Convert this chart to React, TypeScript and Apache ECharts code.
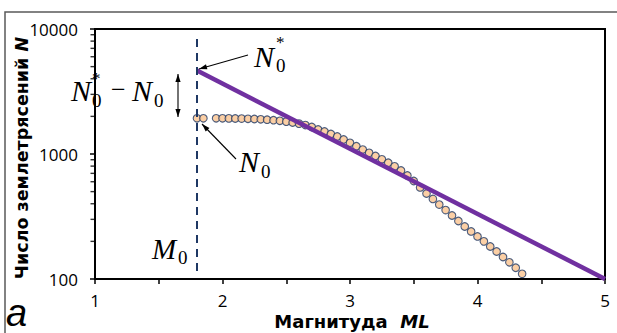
import React, { useEffect, useRef } from 'react';
import * as echarts from 'echarts';

// Magnitude of completeness
const M0 = 1.8;

// Observed cumulative numbers of earthquakes (dots)
const magnitudes = [
  1.8, 1.85, 1.95, 2.0, 2.05, 2.1, 2.15, 2.2, 2.25, 2.3, 2.35, 2.4, 2.45, 2.5,
  2.55, 2.6, 2.65, 2.7, 2.75, 2.8, 2.85, 2.9, 2.95, 3.0, 3.05, 3.1, 3.15, 3.2,
  3.25, 3.3, 3.35, 3.4, 3.45, 3.5, 3.55, 3.6, 3.65, 3.7, 3.75, 3.8, 3.85, 3.9,
  3.95, 4.0, 4.05, 4.1, 4.15, 4.2, 4.25, 4.3, 4.35,
];
const counts = [
  1930, 1930, 1930, 1930, 1927, 1923, 1920, 1913, 1905, 1895, 1881, 1864, 1843, 1816,
  1786, 1750, 1705, 1644, 1570, 1514, 1445, 1380, 1306, 1229, 1154, 1086, 1022, 964,
  907, 852, 797, 738, 673, 608, 540, 483, 437, 394, 356, 322, 291, 263,
  240, 219, 200, 182, 166, 150, 136, 123, 110,
];

// Gutenberg-Richter fit (purple line)
const fitMagnitudes = [M0, 5];
const fitCounts = [4650, 100];

// Vertical dashed cut-off line at M0
const cutoffMagnitudes = [M0, M0];
const cutoffCounts = [8300, 112];

// Axis ranges and minor log ticks
const xMin = 1;
const xMax = 5;
const yMin = 100;
const yMax = 10000;
const yMinorTicks = [200, 300, 400, 500, 600, 700, 800, 900, 2000, 3000, 4000, 5000, 6000, 7000, 8000, 9000];

const SERIF = '"Liberation Serif", "Times New Roman", serif';
const SANS = '"Open Sans", "Noto Sans", sans-serif';
const TITLE = '"DejaVu Sans", "Open Sans", sans-serif';

function arrowHead(x1: number, y1: number, x2: number, y2: number) {
  const ang = Math.atan2(y2 - y1, x2 - x1);
  const len = 8;
  const hw = 2.6;
  const bx = x2 - len * Math.cos(ang);
  const by = y2 - len * Math.sin(ang);
  const px = -Math.sin(ang) * hw;
  const py = Math.cos(ang) * hw;
  return {
    type: 'polygon',
    shape: { points: [[x2, y2], [bx + px, by + py], [bx - px, by - py]] },
    style: { fill: '#000' },
    z: 100,
  };
}

function arrow(x1: number, y1: number, x2: number, y2: number, both = false) {
  const els: any[] = [
    { type: 'line', shape: { x1, y1, x2, y2 }, style: { stroke: '#000', lineWidth: 1.1 }, z: 100 },
    arrowHead(x1, y1, x2, y2),
  ];
  if (both) els.push(arrowHead(x2, y2, x1, y1));
  return els;
}

function txt(text: string, x: number, y: number, size: number, italic: boolean, family = SERIF) {
  return {
    type: 'text',
    x,
    y,
    z: 100,
    style: {
      text,
      fontFamily: family,
      fontSize: size,
      fontStyle: italic ? 'italic' : 'normal',
      fill: '#000',
      align: 'left',
      verticalAlign: 'middle',
    },
  };
}

export default function App() {
  const ref = useRef<HTMLDivElement>(null);

  useEffect(() => {
    const chart = echarts.init(ref.current!, null, { renderer: 'svg' });

    const option: any = {
      animation: false,
      backgroundColor: '#fff',
      grid: {
        left: 95,
        top: 29,
        width: 510,
        height: 250,
        show: true,
        borderColor: '#000',
        borderWidth: 2,
        backgroundColor: 'transparent',
      },
      xAxis: {
        type: 'value',
        min: xMin,
        max: xMax,
        interval: 1,
        axisLine: { show: true, lineStyle: { color: '#000', width: 2 } },
        axisTick: { show: true, inside: false, length: 5, lineStyle: { color: '#000', width: 1.5 } },
        minorTick: { show: true, splitNumber: 2, length: 5, lineStyle: { color: '#000', width: 1.5 } },
        splitLine: { show: false },
        minorSplitLine: { show: false },
        axisLabel: { color: '#000', fontFamily: SANS, fontSize: 17, margin: 13 },
      },
      yAxis: {
        type: 'log',
        logBase: 10,
        min: yMin,
        max: yMax,
        axisLine: { show: true, lineStyle: { color: '#000', width: 2 } },
        axisTick: { show: true, inside: false, length: 5, lineStyle: { color: '#000', width: 1.5 } },
        splitLine: { show: false },
        axisLabel: {
          color: '#000',
          fontFamily: SANS,
          fontSize: 17,
          margin: 17,
          formatter: (v: number) => String(Math.round(v)),
        },
      },
      series: [
        {
          name: 'minor ticks',
          type: 'scatter',
          data: yMinorTicks.map((v) => [xMin, v]),
          symbol: 'rect',
          symbolSize: [4, 1.4],
          symbolOffset: [-2.5, 0],
          itemStyle: { color: '#000' },
          clip: false,
          silent: true,
          z: 5,
        },
        {
          name: 'observed',
          type: 'scatter',
          data: magnitudes.map((m, i) => [m, counts[i]]),
          symbol: 'circle',
          symbolSize: 7.6,
          itemStyle: { color: '#FAC38E', borderColor: '#1F3864', borderWidth: 1.1 },
          z: 2,
        },
        {
          name: 'fit',
          type: 'line',
          data: fitMagnitudes.map((m, i) => [m, fitCounts[i]]),
          symbol: 'none',
          lineStyle: { color: '#7030A0', width: 4.5 },
          z: 3,
        },
        {
          name: 'cutoff',
          type: 'line',
          data: cutoffMagnitudes.map((m, i) => [m, cutoffCounts[i]]),
          symbol: 'none',
          lineStyle: { color: '#1F3864', width: 2, type: [8, 6] },
          z: 4,
        },
      ],
      graphic: [
        // outer frame
        {
          type: 'rect',
          shape: { x: 5, y: 12, width: 700, height: 400 },
          style: { fill: 'none', stroke: '#5a5a5a', lineWidth: 1.5 },
          z: 0,
        },
        // y title
        {
          type: 'text',
          x: 22,
          y: 158,
          rotation: Math.PI / 2,
          z: 100,
          style: {
            text: '{a|Число землетрясений }{b|N}',
            align: 'center',
            verticalAlign: 'middle',
            fill: '#000',
            rich: {
              a: { fontFamily: TITLE, fontSize: 17.5, fontWeight: 'bold', fill: '#000' },
              b: { fontFamily: TITLE, fontSize: 17.5, fontWeight: 'bold', fontStyle: 'italic', fill: '#000' },
            },
          },
        },
        // x title
        {
          type: 'text',
          x: 352,
          y: 321,
          z: 100,
          style: {
            text: '{a|Магнитуда  }{b|ML}',
            align: 'center',
            verticalAlign: 'middle',
            fill: '#000',
            rich: {
              a: { fontFamily: TITLE, fontSize: 18, fontWeight: 'bold', fill: '#000' },
              b: { fontFamily: TITLE, fontSize: 18, fontWeight: 'bold', fontStyle: 'italic', fill: '#000' },
            },
          },
        },
        // panel letter
        txt('а', 6, 313, 38, true, '"Liberation Sans", Arial, sans-serif'),
        // N0* (top)
        txt('N', 254, 56, 30, true),
        txt('*', 276, 42, 17, false),
        txt('0', 276, 65, 19, false),
        ...arrow(248, 55, 199, 69),
        // N0* - N0 (left)
        txt('N', 71, 90, 30, true),
        txt('*', 92, 78, 17, false),
        txt('0', 92, 100, 19, false),
        txt('−', 111, 89, 26, false),
        txt('N', 132, 90, 30, true),
        txt('0', 154, 100, 19, false),
        ...arrow(178, 74, 178, 117, true),
        // N0 (lower)
        txt('N', 239, 161, 30, true),
        txt('0', 261, 171, 19, false),
        ...arrow(236, 159, 202, 124),
        // M0
        txt('M', 152, 249, 29, true),
        txt('0', 178, 257, 19, false),
      ],
    };

    chart.setOption(option);
    return () => chart.dispose();
  }, []);

  return (
    <div
      ref={ref}
      style={{ position: 'fixed', left: 0, top: 0, width: 617, height: 333, background: '#fff' }}
    />
  );
}
